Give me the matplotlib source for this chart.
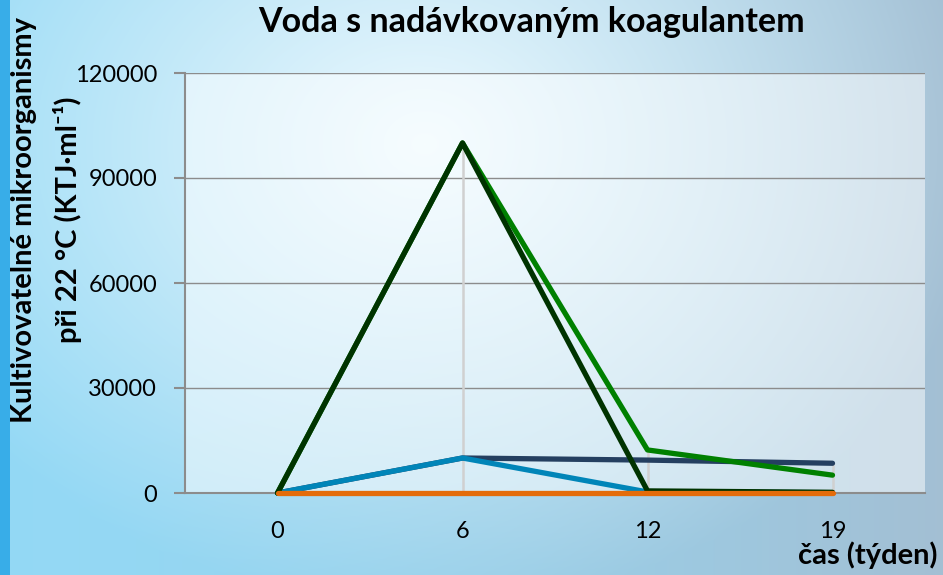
import numpy as np
import matplotlib
matplotlib.use('Agg')
from matplotlib import pyplot as plt

weeks = ['0', '6', '12', '19']
dark_green = [0, 100000, 600, 200]
green = [0, 100000, 12300, 5100]
navy = [0, 10000, 9400, 8500]
teal = [0, 10000, 300, 100]
orange = [0, 0, 0, 0]

plt.rcParams['font.family'] = ['Lato', 'DejaVu Sans']

fig = plt.figure(figsize=(9.43, 5.75), dpi=100)

# background gradient (light glow in the middle, bluer left, greyer right)
h, w = 575, 943
yy, xx = np.mgrid[0:h, 0:w]
u = xx / w
v = yy / h
left_c = np.array([0.58, 0.85, 0.96])
right_c = np.array([0.64, 0.75, 0.83])
t = np.clip(u, 0, 1)[..., None] ** 1.5
bg = left_c * (1 - t) + right_c * t
r = np.sqrt(((u - 0.45) / 0.6) ** 2 + ((v - 0.25) / 0.8) ** 2)
glow = np.clip(1 - r, 0, 1)[..., None] ** 1.0
bg = bg * (1 - glow) + np.array([0.93, 0.98, 1.0]) * glow
strip = (u < 0.01)[..., None]
bg = np.where(strip, np.array([0.22, 0.68, 0.91]), bg)
bgax = fig.add_axes([0, 0, 1, 1], zorder=-10)
bgax.imshow(bg, aspect='auto', interpolation='bilinear')
bgax.axis('off')

ax = fig.add_axes([185 / 943, 1 - 493 / 575, 740 / 943, 420 / 575])
ax.set_facecolor((1, 1, 1, 0.5))

x = np.arange(len(weeks))
series = [navy, teal, green, dark_green, orange]
colors = ['#243F60', '#0085B8', '#008000', '#003300', '#E46C0A']

# high-low lines between the largest and smallest series value
allv = np.array(series)
ax.vlines(x[1:], allv.min(axis=0)[1:], allv.max(axis=0)[1:], color='#D0D0D0', lw=1.8, zorder=2)

for s, c in zip(series, colors):
    ax.plot(x, s, color=c, lw=3.8, solid_capstyle='round', solid_joinstyle='round',
            zorder=3, clip_on=False)

ax.set_xlim(-0.5, 3.5)
ax.set_ylim(0, 120000)
ax.set_yticks([0, 30000, 60000, 90000, 120000])
ax.set_xticks(x)
ax.set_xticklabels(weeks)
ax.yaxis.grid(True, color='#8C8C8C', lw=1)
ax.set_axisbelow(True)
for sp in ['top', 'right']:
    ax.spines[sp].set_visible(False)
ax.spines['left'].set_color('#8C8C8C')
ax.spines['bottom'].set_color('#8C8C8C')
ax.spines['left'].set_linewidth(1.5)
ax.spines['bottom'].set_linewidth(1.5)
ax.tick_params(axis='y', length=8, color='#8C8C8C', width=1.5, labelsize=17, pad=12)
ax.tick_params(axis='x', length=0, labelsize=17, pad=20)

fig.text(531 / 943, 1 - 22 / 575, 'Voda s nadávkovaným koagulantem', ha='center', va='center',
         fontsize=24.5, fontweight='bold')
fig.text(24 / 943, 1 - 220 / 575, 'Kultivovatelné mikroorganismy', rotation=90, ha='center',
         va='center', fontsize=21, fontweight='bold')
fig.text(67 / 943, 1 - 220 / 575, 'při 22 °C (KTJ·ml⁻¹)', rotation=90, ha='center',
         va='center', fontsize=21, fontweight='bold')
fig.text(868 / 943, 1 - 555 / 575, 'čas (týden)', ha='center', va='center',
         fontsize=21, fontweight='bold')

plt.savefig('out.png', dpi=100)
